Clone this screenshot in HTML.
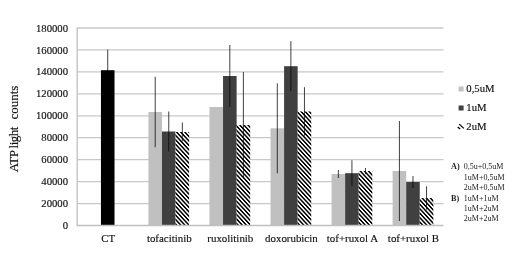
<!DOCTYPE html><html><head><meta charset="utf-8"><style>
html,body{margin:0;padding:0;background:#fff;}
body{width:520px;height:261px;overflow:hidden;}
svg{display:block;filter:blur(0.3px);}
text{font-family:"Liberation Serif",serif;fill:#111;stroke:#111;stroke-width:0.15px;} text.s{fill:#222;stroke:none;}
</style></head><body>
<svg width="520" height="261" viewBox="0 0 520 261">
<defs><pattern id="hatch" patternUnits="userSpaceOnUse" width="2.899" height="2.899" patternTransform="scale(1,1.08) rotate(-45)"><rect x="0" y="0" width="2.899" height="2.899" fill="#fff"/><rect x="0" y="0" width="1.450" height="2.899" fill="#000"/></pattern></defs>
<rect width="520" height="261" fill="#fff"/>
<line x1="77.2" y1="203.56" x2="443.5" y2="203.56" stroke="#c8c8c8" stroke-width="1.3"/>
<line x1="77.2" y1="181.61" x2="443.5" y2="181.61" stroke="#c8c8c8" stroke-width="1.3"/>
<line x1="77.2" y1="159.67" x2="443.5" y2="159.67" stroke="#c8c8c8" stroke-width="1.3"/>
<line x1="77.2" y1="137.72" x2="443.5" y2="137.72" stroke="#c8c8c8" stroke-width="1.3"/>
<line x1="77.2" y1="115.78" x2="443.5" y2="115.78" stroke="#c8c8c8" stroke-width="1.3"/>
<line x1="77.2" y1="93.83" x2="443.5" y2="93.83" stroke="#c8c8c8" stroke-width="1.3"/>
<line x1="77.2" y1="71.89" x2="443.5" y2="71.89" stroke="#c8c8c8" stroke-width="1.3"/>
<line x1="77.2" y1="49.94" x2="443.5" y2="49.94" stroke="#c8c8c8" stroke-width="1.3"/>
<line x1="77.2" y1="28.00" x2="443.5" y2="28.00" stroke="#c8c8c8" stroke-width="1.3"/>
<rect x="100.94" y="70.20" width="13.57" height="155.30" fill="#000"/>
<rect x="148.43" y="112.00" width="13.57" height="113.50" fill="#c0c0c0"/>
<rect x="161.99" y="131.50" width="13.57" height="94.00" fill="#404040"/>
<rect x="175.56" y="132.00" width="13.57" height="93.50" fill="url(#hatch)"/>
<rect x="209.47" y="107.00" width="13.57" height="118.50" fill="#c0c0c0"/>
<rect x="223.04" y="76.00" width="13.57" height="149.50" fill="#404040"/>
<rect x="236.61" y="125.00" width="13.57" height="100.50" fill="url(#hatch)"/>
<rect x="270.52" y="128.30" width="13.57" height="97.20" fill="#c0c0c0"/>
<rect x="284.09" y="66.20" width="13.57" height="159.30" fill="#404040"/>
<rect x="297.66" y="111.50" width="13.57" height="114.00" fill="url(#hatch)"/>
<rect x="331.57" y="174.00" width="13.57" height="51.50" fill="#c0c0c0"/>
<rect x="345.14" y="173.20" width="13.57" height="52.30" fill="#404040"/>
<rect x="358.71" y="171.00" width="13.57" height="54.50" fill="url(#hatch)"/>
<rect x="392.62" y="171.00" width="13.57" height="54.50" fill="#c0c0c0"/>
<rect x="406.19" y="182.00" width="13.57" height="43.50" fill="#404040"/>
<rect x="419.76" y="198.00" width="13.57" height="27.50" fill="url(#hatch)"/>
<line x1="77.2" y1="27.40" x2="77.2" y2="225.50" stroke="#c0c0c0" stroke-width="1.3"/>
<line x1="76.60" y1="225.5" x2="443.5" y2="225.5" stroke="#c0c0c0" stroke-width="1.3"/>
<line x1="107.73" y1="49.60" x2="107.73" y2="90.80" stroke="#000" stroke-width="0.75"/>
<line x1="155.21" y1="76.80" x2="155.21" y2="147.20" stroke="#000" stroke-width="0.75"/>
<line x1="168.78" y1="111.50" x2="168.78" y2="151.50" stroke="#000" stroke-width="0.75"/>
<line x1="182.34" y1="122.50" x2="182.34" y2="141.50" stroke="#000" stroke-width="0.75"/>
<line x1="229.82" y1="45.00" x2="229.82" y2="107.00" stroke="#000" stroke-width="0.75"/>
<line x1="243.39" y1="72.00" x2="243.39" y2="178.00" stroke="#000" stroke-width="0.75"/>
<line x1="277.31" y1="83.30" x2="277.31" y2="173.30" stroke="#000" stroke-width="0.75"/>
<line x1="290.88" y1="41.20" x2="290.88" y2="91.20" stroke="#000" stroke-width="0.75"/>
<line x1="304.44" y1="87.20" x2="304.44" y2="135.80" stroke="#000" stroke-width="0.75"/>
<line x1="338.36" y1="170.00" x2="338.36" y2="178.00" stroke="#000" stroke-width="0.75"/>
<line x1="351.93" y1="160.20" x2="351.93" y2="186.20" stroke="#000" stroke-width="0.75"/>
<line x1="365.49" y1="168.00" x2="365.49" y2="174.00" stroke="#000" stroke-width="0.75"/>
<line x1="399.41" y1="121.00" x2="399.41" y2="221.00" stroke="#000" stroke-width="0.75"/>
<line x1="412.98" y1="176.00" x2="412.98" y2="188.00" stroke="#000" stroke-width="0.75"/>
<line x1="426.54" y1="186.30" x2="426.54" y2="209.70" stroke="#000" stroke-width="0.75"/>
<text x="68" y="229.10" font-size="10.7" text-anchor="end">0</text>
<text x="68" y="207.16" font-size="10.7" text-anchor="end">20000</text>
<text x="68" y="185.21" font-size="10.7" text-anchor="end">40000</text>
<text x="68" y="163.27" font-size="10.7" text-anchor="end">60000</text>
<text x="68" y="141.32" font-size="10.7" text-anchor="end">80000</text>
<text x="68" y="119.38" font-size="10.7" text-anchor="end">100000</text>
<text x="68" y="97.43" font-size="10.7" text-anchor="end">120000</text>
<text x="68" y="75.49" font-size="10.7" text-anchor="end">140000</text>
<text x="68" y="53.54" font-size="10.7" text-anchor="end">160000</text>
<text x="68" y="31.60" font-size="10.7" text-anchor="end">180000</text>
<text x="108.23" y="241.5" font-size="10.9" text-anchor="middle">CT</text>
<text x="169.28" y="241.5" font-size="10.9" text-anchor="middle">tofacitinib</text>
<text x="230.32" y="241.5" font-size="10.9" text-anchor="middle">ruxolitinib</text>
<text x="291.38" y="241.5" font-size="10.9" text-anchor="middle">doxorubicin</text>
<text x="352.43" y="241.5" font-size="10.9" text-anchor="middle">tof+ruxol A</text>
<text x="413.48" y="241.5" font-size="10.9" text-anchor="middle">tof+ruxol B</text>
<text x="0" y="0" font-size="13" text-anchor="start" transform="translate(18,172.2) rotate(-90)" textLength="45.6" lengthAdjust="spacing">ATP light</text>
<text x="0" y="0" font-size="13" text-anchor="start" transform="translate(18,119.6) rotate(-90)">counts</text>
<rect x="458.6" y="86.50" width="5" height="5" fill="#c0c0c0"/>
<text x="466.3" y="92" font-size="10.7">0,5uM</text>
<rect x="458.6" y="105.50" width="5" height="5" fill="#404040"/>
<text x="466.3" y="111" font-size="10.7">1uM</text>
<line x1="459.2" y1="124.1" x2="463.8" y2="128.4" stroke="#000" stroke-width="1.3"/>
<line x1="457.7" y1="126.9" x2="460.1" y2="129.0" stroke="#000" stroke-width="1.3"/>
<text x="466.3" y="130" font-size="10.7">2uM</text>
<text x="463.8" y="169.40" font-size="8" class="s">0,5u+0,5uM</text>
<text x="463.8" y="179.80" font-size="8" class="s">1uM+0,5uM</text>
<text x="463.8" y="190.20" font-size="8" class="s">2uM+0,5uM</text>
<text x="463.8" y="200.60" font-size="8" class="s">1uM+1uM</text>
<text x="463.8" y="211.00" font-size="8" class="s">1uM+2uM</text>
<text x="463.8" y="221.40" font-size="8" class="s">2uM+2uM</text>
<text x="451" y="169.4" font-size="8.2" font-weight="bold" class="s">A)</text>
<text x="451" y="200.60" font-size="8.2" font-weight="bold" class="s">B)</text>
</svg></body></html>
